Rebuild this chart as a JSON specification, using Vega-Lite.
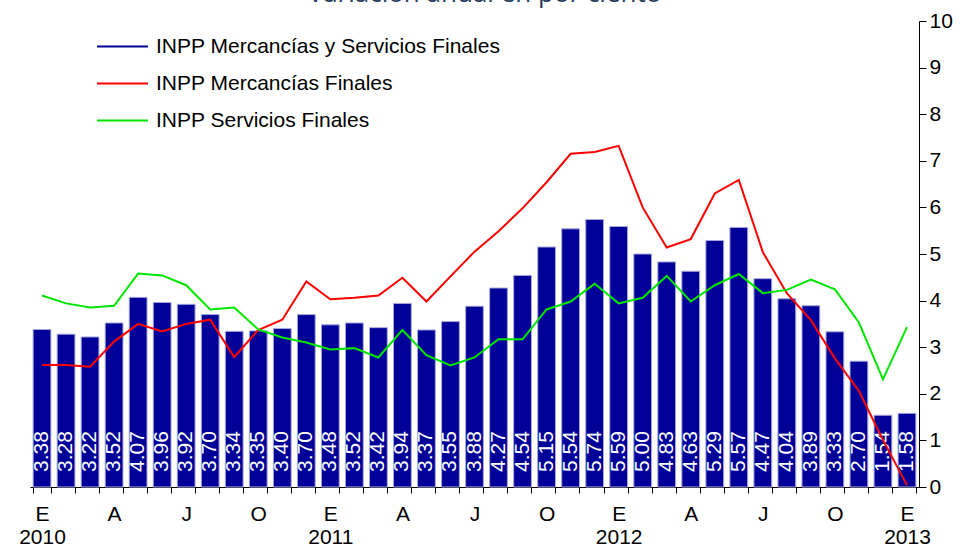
{
  "$schema": "https://vega.github.io/schema/vega-lite/v6.json",
  "autosize": {"type": "none"},
  "width": 889,
  "height": 466,
  "padding": {"left": 30, "top": 21, "right": 46, "bottom": 62},
  "background": "white",
  "title": {
    "text": "Variación anual en por ciento",
    "font": "Open Sans",
    "fontSize": 26,
    "fontWeight": "normal",
    "color": "#243b5e",
    "anchor": "middle",
    "offset": 3,
    "dx": 10
  },
  "config": {
    "view": {"stroke": null},
    "axis": {"grid": false, "domainColor": "black", "tickColor": "black", "labelColor": "black", "labelFont": "Liberation Sans", "labelFontSize": 21}
  },
  "data": {
    "values": [
      {"mes": "2010-01", "total": 3.38, "merc": 2.62, "serv": 4.11},
      {"mes": "2010-02", "total": 3.28, "merc": 2.62, "serv": 3.94},
      {"mes": "2010-03", "total": 3.22, "merc": 2.58, "serv": 3.85},
      {"mes": "2010-04", "total": 3.52, "merc": 3.12, "serv": 3.89},
      {"mes": "2010-05", "total": 4.07, "merc": 3.50, "serv": 4.58},
      {"mes": "2010-06", "total": 3.96, "merc": 3.34, "serv": 4.54},
      {"mes": "2010-07", "total": 3.92, "merc": 3.50, "serv": 4.33},
      {"mes": "2010-08", "total": 3.70, "merc": 3.59, "serv": 3.81},
      {"mes": "2010-09", "total": 3.34, "merc": 2.79, "serv": 3.85},
      {"mes": "2010-10", "total": 3.35, "merc": 3.37, "serv": 3.38},
      {"mes": "2010-11", "total": 3.40, "merc": 3.59, "serv": 3.21},
      {"mes": "2010-12", "total": 3.70, "merc": 4.41, "serv": 3.10},
      {"mes": "2011-01", "total": 3.48, "merc": 4.03, "serv": 2.95},
      {"mes": "2011-02", "total": 3.52, "merc": 4.06, "serv": 2.98},
      {"mes": "2011-03", "total": 3.42, "merc": 4.11, "serv": 2.78},
      {"mes": "2011-04", "total": 3.94, "merc": 4.49, "serv": 3.37},
      {"mes": "2011-05", "total": 3.37, "merc": 3.98, "serv": 2.83},
      {"mes": "2011-06", "total": 3.55, "merc": 4.52, "serv": 2.61},
      {"mes": "2011-07", "total": 3.88, "merc": 5.05, "serv": 2.78},
      {"mes": "2011-08", "total": 4.27, "merc": 5.49, "serv": 3.17},
      {"mes": "2011-09", "total": 4.54, "merc": 5.98, "serv": 3.17},
      {"mes": "2011-10", "total": 5.15, "merc": 6.54, "serv": 3.81},
      {"mes": "2011-11", "total": 5.54, "merc": 7.15, "serv": 3.98},
      {"mes": "2011-12", "total": 5.74, "merc": 7.19, "serv": 4.36},
      {"mes": "2012-01", "total": 5.59, "merc": 7.32, "serv": 3.94},
      {"mes": "2012-02", "total": 5.00, "merc": 6.00, "serv": 4.06},
      {"mes": "2012-03", "total": 4.83, "merc": 5.14, "serv": 4.53},
      {"mes": "2012-04", "total": 4.63, "merc": 5.32, "serv": 3.98},
      {"mes": "2012-05", "total": 5.29, "merc": 6.30, "serv": 4.33},
      {"mes": "2012-06", "total": 5.57, "merc": 6.59, "serv": 4.57},
      {"mes": "2012-07", "total": 4.47, "merc": 5.04, "serv": 4.16},
      {"mes": "2012-08", "total": 4.04, "merc": 4.16, "serv": 4.23},
      {"mes": "2012-09", "total": 3.89, "merc": 3.58, "serv": 4.45},
      {"mes": "2012-10", "total": 3.33, "merc": 2.76, "serv": 4.24},
      {"mes": "2012-11", "total": 2.70, "merc": 2.06, "serv": 3.53},
      {"mes": "2012-12", "total": 1.54, "merc": 1.01, "serv": 2.31},
      {"mes": "2013-01", "total": 1.58, "merc": 0.04, "serv": 3.43}
    ]
  },
  "layer": [
    {
      "mark": {"type": "bar", "stroke": "#a8a8dc", "strokeWidth": 1},
      "encoding": {
        "x": {
          "field": "mes",
          "type": "ordinal",
          "sort": null,
          "scale": {"paddingInner": 0.26, "paddingOuter": 0.13},
          "axis": {
            "title": null,
            "orient": "bottom",
            "labelAngle": 0,
            "tickBand": "extent",
            "tickSize": 6,
            "labelPadding": 10,
            "labelLineHeight": 23,
            "labelBaseline": "top",
            "labelOverlap": false,
            "labelExpr": "slice(datum.label + '', 5) == '01' ? ['E', slice(datum.label + '', 0, 4)] : slice(datum.label + '', 5) == '04' ? 'A' : slice(datum.label + '', 5) == '07' ? 'J' : slice(datum.label + '', 5) == '10' ? 'O' : ''"
          }
        },
        "y": {
          "field": "total",
          "type": "quantitative",
          "scale": {"domain": [0, 10]},
          "axis": {"title": null, "orient": "right", "values": [0,1,2,3,4,5,6,7,8,9,10], "tickSize": 7, "labelPadding": 3}
        },
        "color": {
          "datum": "INPP Mercancías y Servicios Finales",
          "scale": {
            "domain": ["INPP Mercancías y Servicios Finales", "INPP Mercancías Finales", "INPP Servicios Finales"],
            "range": ["#000099", "#ff0000", "#00e600"]
          },
          "legend": {
            "orient": "none",
            "legendX": 66,
            "legendY": -1,
            "title": null,
            "padding": 0,
            "symbolType": "stroke",
            "symbolSize": 2601,
            "symbolStrokeWidth": 2,
            "rowPadding": -5,
            "labelOffset": 7,
            "labelFont": "Liberation Sans",
            "labelFontSize": 21,
            "labelColor": "black",
            "labelLimit": 500,
            "encode": {
              "symbols": {
                "enter": {
                  "strokeWidth": {"signal": "datum.value === 'INPP Mercancías y Servicios Finales' ? 12 : 2"}
                },
                "update": {
                  "stroke": {"scale": "color", "field": "value"},
                  "fill": {"value": "transparent"},
                  "strokeWidth": {"signal": "datum.value === 'INPP Mercancías y Servicios Finales' ? 12 : 2"},
                  "opacity": {"value": 1}
                }
              }
            }
          }
        }
      }
    },
    {
      "mark": {"type": "text", "angle": 270, "align": "left", "baseline": "middle", "dx": 15, "color": "white", "fontSize": 21, "font": "Liberation Sans"},
      "encoding": {
        "x": {"field": "mes", "type": "ordinal", "sort": null},
        "y": {"datum": 0, "type": "quantitative"},
        "text": {"field": "total", "type": "quantitative", "format": ".2f"}
      }
    },
    {
      "mark": {"type": "line", "strokeWidth": 2},
      "encoding": {
        "x": {"field": "mes", "type": "ordinal", "sort": null},
        "y": {"field": "merc", "type": "quantitative"},
        "color": {"datum": "INPP Mercancías Finales"}
      }
    },
    {
      "mark": {"type": "line", "strokeWidth": 2},
      "encoding": {
        "x": {"field": "mes", "type": "ordinal", "sort": null},
        "y": {"field": "serv", "type": "quantitative"},
        "color": {"datum": "INPP Servicios Finales"}
      }
    }
  ]
}
